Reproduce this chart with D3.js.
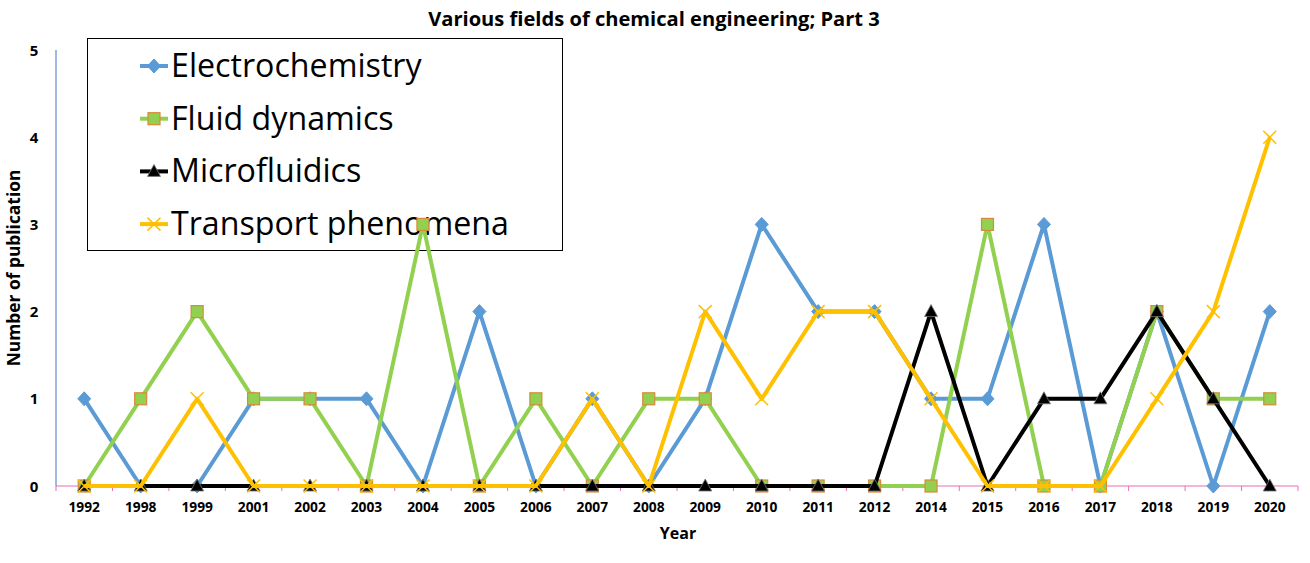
<!DOCTYPE html>
<html><head><meta charset="utf-8">
<script src="https://cdn.jsdelivr.net/npm/d3@7"></script>
<style>body{margin:0;background:#fff;} svg{display:block;font-family:"Open Sans",Lato,sans-serif;}</style>
</head><body>
<svg id="c" width="1310" height="563"></svg>
<script>
const years = ["1992","1998","1999","2001","2002","2003","2004","2005","2006","2007","2008","2009","2010","2011","2012","2014","2015","2016","2017","2018","2019","2020"];
const electrochemistry = [1,0,0,1,1,1,0,2,0,1,0,1,3,2,2,1,1,3,0,2,0,2];
const fluidDynamics    = [0,1,2,1,1,0,3,0,1,0,1,1,0,0,0,0,3,0,0,2,1,1];
const microfluidics    = [0,0,0,0,0,0,0,0,0,0,0,0,0,0,0,2,0,1,1,2,1,0];
const transport        = [0,0,1,0,0,0,0,0,0,1,0,2,1,2,2,1,0,0,0,1,2,4];
const seriesNames = ["Electrochemistry","Fluid dynamics","Microfluidics","Transport phenomena"];
const yTicks = [0,1,2,3,4,5];

const series = [
  {name:seriesNames[0], values:electrochemistry, color:"#5B9BD5", marker:"diamond"},
  {name:seriesNames[1], values:fluidDynamics, color:"#92D050", marker:"square"},
  {name:seriesNames[2], values:microfluidics, color:"#000000", marker:"triangle"},
  {name:seriesNames[3], values:transport, color:"#FFC000", marker:"x"}
];

const svg = d3.select("#c");
const pL = 56, pR = 1298, pT = 50, pB = 486;
const x = d3.scaleBand().domain(years).range([pL, pR]);
const y = d3.scaleLinear().domain([0,5]).range([pB, pT]);

function fit(sel, target) {
  const w = sel.node().getComputedTextLength();
  const fs = parseFloat(sel.attr("font-size"));
  if (w > 0) sel.attr("font-size", fs * target / w);
}

// title
const title = svg.append("text").attr("x", 654).attr("y", 26).attr("text-anchor","middle")
  .attr("font-size", 18).attr("font-weight","bold").text("Various fields of chemical engineering; Part 3");
fit(title, 452);

function drawMarker(g, type, color, cx, cy) {
  if (type === "diamond") {
    g.append("path").attr("d", `M${cx},${cy-7}L${cx+6.5},${cy}L${cx},${cy+7}L${cx-6.5},${cy}Z`)
      .attr("fill", color).attr("stroke", color);
  } else if (type === "square") {
    g.append("rect").attr("x", cx-6).attr("y", cy-6).attr("width",12).attr("height",12)
      .attr("fill", "#92D050").attr("stroke","#D9893A").attr("stroke-width",1.2);
  } else if (type === "triangle") {
    g.append("path").attr("d", `M${cx},${cy-7}L${cx+6.5},${cy+5}L${cx-6.5},${cy+5}Z`)
      .attr("fill", "#000").attr("stroke","#777").attr("stroke-width",0.8);
  } else {
    g.append("path").attr("d", `M${cx-6.5},${cy-6.5}L${cx+6.5},${cy+6.5}M${cx-6.5},${cy+6.5}L${cx+6.5},${cy-6.5}`)
      .attr("stroke", color).attr("stroke-width",1.5).attr("fill","none");
  }
}

// legend (drawn under the series)
const lg = svg.append("g");
lg.append("rect").attr("x", 87.5).attr("y", 38.5).attr("width", 475).attr("height", 212)
  .attr("fill","#fff").attr("stroke","#000").attr("stroke-width",1);
series.forEach((s,i) => {
  const cy = 66 + i*52.7;
  lg.append("line").attr("x1",140).attr("x2",168).attr("y1",cy).attr("y2",cy)
    .attr("stroke", s.color).attr("stroke-width",4);
  drawMarker(lg, s.marker, s.color, 154, cy);
  const t = lg.append("text").attr("x", 171).attr("y", cy + 11).attr("font-size", 30).text(s.name);
  if (i === 3) fit(t, 338);
});
const lfs = lg.selectAll("text").filter((d,i,n)=>i===3).attr("font-size");
lg.selectAll("text").attr("font-size", lfs);

// x axis (pink)
const xAxis = svg.append("g").attr("transform", `translate(0,${pB})`);
xAxis.append("line").attr("x1", pL).attr("x2", pR).attr("stroke","#E76FB7").attr("stroke-width",1);
const bounds = years.map(d => x(d)).concat([pR]);
xAxis.selectAll("line.t").data(bounds).join("line").attr("class","t")
  .attr("x1", d=>d).attr("x2", d=>d).attr("y1",0).attr("y2",5).attr("stroke","#E76FB7");
const xl = xAxis.selectAll("text").data(years).join("text")
  .attr("x", d => x(d) + x.bandwidth()/2).attr("y", 26).attr("text-anchor","middle")
  .attr("font-size", 13).attr("font-weight","bold").text(d=>d);
fit(d3.select(xl.node()), 31.5);
xl.attr("font-size", d3.select(xl.node()).attr("font-size"));

// y axis (blue line, no ticks)
svg.append("line").attr("x1", pL).attr("x2", pL).attr("y1", pT).attr("y2", pB)
  .attr("stroke","#4472C4").attr("stroke-width",1);
svg.selectAll("text.yl").data(yTicks).join("text").attr("class","yl")
  .attr("x", 34).attr("y", d => y(d) + 5.5).attr("text-anchor","middle")
  .attr("font-size", 15).attr("font-weight","bold").text(d=>d);

// axis titles
svg.append("text").attr("x", 678).attr("y", 539).attr("text-anchor","middle")
  .attr("font-size", 16).attr("font-weight","bold").text("Year");
const yt = svg.append("text").attr("transform", "translate(20,268) rotate(-90)").attr("text-anchor","middle")
  .attr("font-size", 16).attr("font-weight","bold").text("Number of publication");
fit(yt, 197);

const line = d3.line().x((d,i) => x(years[i]) + x.bandwidth()/2).y(d => y(d));
series.forEach(s => {
  const g = svg.append("g");
  g.append("path").attr("d", line(s.values)).attr("fill","none").attr("stroke", s.color)
    .attr("stroke-width", 4).attr("stroke-linejoin","round");
  s.values.forEach((v,i) => drawMarker(g, s.marker, s.color, x(years[i]) + x.bandwidth()/2, y(v)));
});
</script>
</body></html>
